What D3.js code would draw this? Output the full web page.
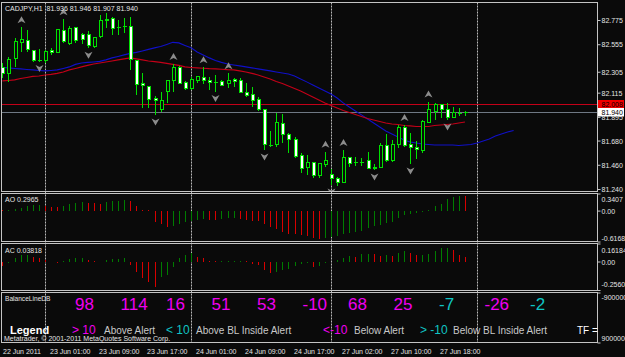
<!DOCTYPE html>
<html>
<head>
<meta charset="utf-8">
<script src="https://cdn.jsdelivr.net/npm/d3@7/dist/d3.min.js"></script>
<style>
  html, body { margin: 0; padding: 0; background: #0a0a0a; }
  svg { display: block; font-family: "Liberation Sans", Arial, sans-serif; }
</style>
</head>
<body>
<svg id="chart" width="625" height="357"></svg>
<script>
// CADJPY H1 candles (open / high / low / close), one entry per bar
const opens = [
  82.343, 82.291, 82.428, 82.573, 82.588, 82.494, 82.419, 82.406, 82.497, 82.479,
  82.679, 82.564, 82.709, 82.640, 82.640, 82.534, 82.625, 82.782, 82.791, 82.715,
  82.722, 82.715, 82.403, 82.194, 82.173, 82.064, 81.958, 82.125, 82.225, 82.346,
  82.206, 82.149, 82.225, 82.252, 82.222, 82.215, 82.212, 82.194, 82.234, 82.222,
  82.119, 82.094, 82.049, 81.958, 81.649, 81.640, 81.831, 81.737, 81.694, 81.540,
  81.437, 81.479, 81.361, 81.467, 81.376, 81.334, 81.297, 81.525, 81.488, 81.485,
  81.497, 81.437, 81.437, 81.631, 81.497, 81.643, 81.800, 81.640, 81.616, 81.594,
  81.846, 81.943, 82.003, 81.958, 81.891, 81.937, 81.936
];
const highs = [
  82.382, 82.443, 82.609, 82.709, 82.685, 82.497, 82.509, 82.503, 82.519, 82.691,
  82.782, 82.722, 82.715, 82.655, 82.679, 82.625, 82.822, 82.843, 82.806, 82.776,
  82.791, 82.806, 82.412, 82.291, 82.176, 82.085, 82.125, 82.231, 82.376, 82.358,
  82.225, 82.261, 82.267, 82.346, 82.261, 82.273, 82.231, 82.291, 82.252, 82.252,
  82.200, 82.164, 82.073, 81.964, 81.770, 81.928, 81.922, 81.752, 81.715, 81.570,
  81.549, 81.488, 81.479, 81.579, 81.419, 81.352, 81.594, 81.534, 81.534, 81.521,
  81.579, 81.467, 81.655, 81.737, 81.685, 81.822, 81.822, 81.746, 81.676, 81.867,
  82.034, 82.019, 82.012, 82.025, 81.988, 81.973, 81.946
];
const lows = [
  82.246, 82.215, 82.352, 82.488, 82.488, 82.397, 82.397, 82.382, 82.458, 82.473,
  82.564, 82.549, 82.564, 82.555, 82.519, 82.519, 82.609, 82.700, 82.640, 82.640,
  82.655, 82.322, 82.094, 81.973, 81.973, 81.912, 81.943, 82.019, 82.125, 82.194,
  82.140, 82.140, 82.206, 82.194, 82.140, 82.125, 82.176, 82.155, 82.170, 82.115,
  82.079, 81.982, 81.952, 81.594, 81.625, 81.625, 81.655, 81.570, 81.519, 81.382,
  81.367, 81.337, 81.337, 81.443, 81.276, 81.267, 81.291, 81.443, 81.449, 81.449,
  81.419, 81.412, 81.434, 81.488, 81.488, 81.609, 81.625, 81.467, 81.509, 81.564,
  81.837, 81.867, 81.882, 81.867, 81.882, 81.903, 81.907
];
const closes = [
  82.291, 82.419, 82.579, 82.597, 82.509, 82.409, 82.415, 82.491, 82.479, 82.685,
  82.579, 82.700, 82.588, 82.600, 82.540, 82.619, 82.770, 82.767, 82.700, 82.712,
  82.719, 82.419, 82.191, 82.176, 82.055, 82.043, 82.043, 82.225, 82.346, 82.200,
  82.152, 82.231, 82.258, 82.222, 82.206, 82.212, 82.182, 82.228, 82.219, 82.119,
  82.088, 82.043, 81.958, 81.640, 81.643, 81.846, 81.737, 81.691, 81.534, 81.428,
  81.482, 81.361, 81.473, 81.503, 81.331, 81.297, 81.528, 81.473, 81.482, 81.488,
  81.428, 81.425, 81.631, 81.497, 81.640, 81.800, 81.634, 81.619, 81.600, 81.852,
  81.958, 82.003, 81.964, 81.891, 81.934, 81.931, 81.940
];

// moving averages (blue one is shifted 8 bars into the future)
const blueLine = [
  82.343, 82.340, 82.335, 82.331, 82.326, 82.322, 82.317, 82.313, 82.317, 82.322,
  82.335, 82.349, 82.372, 82.385, 82.390, 82.394, 82.399, 82.413, 82.431, 82.444,
  82.458, 82.472, 82.481, 82.494, 82.508, 82.522, 82.535, 82.553, 82.572, 82.567,
  82.544, 82.522, 82.485, 82.458, 82.431, 82.408, 82.390, 82.376, 82.367, 82.358,
  82.349, 82.340, 82.331, 82.322, 82.313, 82.303, 82.294, 82.285, 82.267, 82.240,
  82.213, 82.185, 82.158, 82.131, 82.103, 82.067, 82.022, 81.985, 81.949, 81.913,
  81.876, 81.840, 81.803, 81.767, 81.740, 81.713, 81.685, 81.667, 81.658, 81.649,
  81.644, 81.640, 81.640, 81.640, 81.640, 81.635, 81.640, 81.644, 81.658, 81.676,
  81.694, 81.722, 81.740, 81.758, 81.772
];
const redLine = [
  82.222, 82.226, 82.231, 82.244, 82.253, 82.263, 82.267, 82.276, 82.281, 82.290,
  82.303, 82.322, 82.335, 82.349, 82.363, 82.376, 82.385, 82.394, 82.403, 82.413,
  82.422, 82.431, 82.422, 82.413, 82.403, 82.397, 82.390, 82.381, 82.372, 82.363,
  82.349, 82.344, 82.340, 82.337, 82.333, 82.331, 82.328, 82.324, 82.322, 82.313,
  82.303, 82.290, 82.276, 82.258, 82.240, 82.217, 82.199, 82.176, 82.153, 82.131,
  82.103, 82.076, 82.049, 82.022, 81.999, 81.976, 81.953, 81.935, 81.917, 81.899,
  81.881, 81.867, 81.853, 81.840, 81.831, 81.826, 81.817, 81.813, 81.808, 81.808,
  81.808, 81.817, 81.822, 81.826, 81.831, 81.840, 81.849
];

// fractal bars
const upFractals = [3, 10, 28, 33, 37, 53, 56, 66, 70];
const downFractals = [6, 14, 25, 35, 43, 54, 61, 67, 73];

// Awesome Oscillator / Accelerator Oscillator
const aoValues = [
  0.01, 0.02, 0.03, 0.05, 0.10, 0.105, 0.11, 0.10, 0.067, 0.065,
  0.10, 0.133, 0.147, 0.167, 0.153, 0.150, 0.133, 0.167, 0.187, 0.20,
  0.22, 0.187, 0.10, 0.02, 0.005, -0.233, -0.267, -0.333, -0.30, -0.267,
  -0.233, -0.20, -0.18, -0.167, -0.18, -0.183, -0.167, -0.153, -0.147, -0.167,
  -0.18, -0.20, -0.205, -0.267, -0.333, -0.367, -0.42, -0.467, -0.47, -0.487,
  -0.513, -0.553, -0.56, -0.54, -0.525, -0.50, -0.467, -0.447, -0.433, -0.40,
  -0.353, -0.313, -0.287, -0.247, -0.22, -0.153, -0.087, -0.067, -0.047, -0.02,
  0.02, 0.10, 0.133, 0.233, 0.267, 0.30, 0.2965
];
const acValues = [
  -0.04, -0.01, 0.03, 0.055, 0.06, 0.045, 0.03, 0.01, -0.005, -0.01,
  0.005, 0.02, 0.035, 0.036, 0.015, 0.005, -0.002, 0.015, 0.02, 0.022,
  0.03, -0.03, -0.09, -0.15, -0.18, -0.225, -0.135, -0.12, -0.045, 0.03,
  0.055, 0.075, 0.045, 0.03, 0.006, 0.004, 0.005, 0.007, 0.008, 0.009,
  0.004, -0.02, -0.03, -0.075, -0.10, -0.09, -0.075, -0.068, -0.04, -0.02,
  -0.015, -0.045, -0.038, -0.015, -0.005, 0.015, 0.03, 0.05, 0.045, 0.066,
  0.067, 0.066, 0.05, 0.054, 0.05, 0.075, 0.09, 0.075, 0.054, 0.06,
  0.07, 0.09, 0.12, 0.121, 0.105, 0.06, 0.03818
];

// axis ticks
const priceTicks = [82.775, 82.555, 82.305, 82.115, 81.895, 81.680, 81.460, 81.240];
const aoTicks = [0.3407, 0, -0.6168];
const acTicks = [0.16184, 0, -0.25607];
const blTicks = [-9000000, 9000000];
const alertLevel = 82.008;
const bidPrice = 81.940;

const timeLabelBars = [0, 8, 16, 24, 32, 40, 48, 56, 64, 72];
const timeLabels = ["22 Jun 2011", "23 Jun 01:00", "23 Jun 09:00", "23 Jun 17:00", "24 Jun 01:00",
  "24 Jun 09:00", "24 Jun 17:00", "27 Jun 02:00", "27 Jun 10:00", "27 Jun 18:00"];
const daySeparatorBars = [7, 31, 54, 78];

// BalanceLineDB panel
const balanceValues = [98, 114, 16, 51, 53, -10, 68, 25, -7, -26, -2];
const legendTexts = ["> 10", "Above Alert", "< 10", "Above BL Inside Alert", "<-10", "Below Alert", "> -10", "Below BL Inside Alert", "TF ="];
const legendKinds = ["hi", "txt", "lo", "txt", "hi", "txt", "lo", "txt", "white"];

const COLORS = {
  bg: "#0a0a0a",
  frame: "#c4c4c4",
  text: "#e4e4e4",
  candle: "#00e000",
  bear: "#ffffff",
  blue: "#1010c8",
  red: "#c40018",
  bid: "#6f7884",
  up: "#007c00",
  down: "#d80000",
  arrow: "#8c8c8c",
  magenta: "#f000f0",
  cyan: "#10c4c4",
  legend: "#c8c8c8",
};

const svg = d3.select("#chart");
svg.append("rect").attr("width", 625).attr("height", 357).attr("fill", COLORS.bg);

const PANELS = {
  main: [2.5, 191.5],
  ao: [193.5, 241.5],
  ac: [243.5, 290.5],
  bl: [292.5, 342.5],
};
const LEFT = 1.5, RIGHT = 597.5;

// bar index -> x
const x = d3.scaleLinear().domain([0, 97.7]).range([2.4, 597]);
const px = (i) => Math.round(x(i));

const yMain = d3.scaleLinear().domain([81.24, 82.775]).range([189, 20]);
const yAO = d3.scaleLinear().domain([-0.6168, 0.3407]).range([241.5, 193.5]);
const yAC = d3.scaleLinear().domain([-0.25607, 0.16184]).range([290, 243.5]);
const yBL = d3.scaleLinear().domain([-9000000, 9000000]).range([292.5, 342.5]);

// clip per panel
const defs = svg.append("defs");
Object.entries(PANELS).forEach(([k, [t, b]]) => {
  defs.append("clipPath").attr("id", "clip-" + k)
    .append("rect").attr("x", LEFT + 0.5).attr("y", t + 0.5)
    .attr("width", RIGHT - LEFT - 1).attr("height", b - t - 1);
});

// day separators (dotted verticals across all panels)
svg.append("g").selectAll("line").data(daySeparatorBars).join("line")
  .attr("x1", (d) => px(d) + 0.5).attr("x2", (d) => px(d) + 0.5)
  .attr("y1", PANELS.main[0]).attr("y2", PANELS.bl[1])
  .attr("stroke", "#b8b8b8").attr("stroke-dasharray", "2,1");

// ---- main panel ----
const gMain = svg.append("g").attr("clip-path", "url(#clip-main)");

// horizontal alert + bid lines
gMain.append("line").attr("x1", LEFT).attr("x2", RIGHT)
  .attr("y1", Math.round(yMain(alertLevel)) + 0.5).attr("y2", Math.round(yMain(alertLevel)) + 0.5)
  .attr("stroke", COLORS.red);
gMain.append("line").attr("x1", LEFT).attr("x2", RIGHT)
  .attr("y1", Math.round(yMain(bidPrice)) + 0.5).attr("y2", Math.round(yMain(bidPrice)) + 0.5)
  .attr("stroke", COLORS.bid);

// moving averages
const maLine = d3.line().x((d, i) => x(i)).y((d) => yMain(d));
gMain.append("path").datum(blueLine).attr("d", maLine)
  .attr("fill", "none").attr("stroke", COLORS.blue).attr("stroke-width", 1.1);
gMain.append("path").datum(redLine).attr("d", maLine)
  .attr("fill", "none").attr("stroke", COLORS.red).attr("stroke-width", 1.1);

// candles
const candles = opens.map((o, i) => ({ i, o, h: highs[i], l: lows[i], c: closes[i] }));
const cg = gMain.append("g").selectAll("g").data(candles).join("g")
  .attr("shape-rendering", "crispEdges");
cg.append("line") // wick
  .attr("x1", (d) => px(d.i) + 0.5).attr("x2", (d) => px(d.i) + 0.5)
  .attr("y1", (d) => yMain(d.h)).attr("y2", (d) => yMain(d.l))
  .attr("stroke", COLORS.candle);
cg.each(function (d) {
  const g = d3.select(this);
  const yo = yMain(d.o), yc = yMain(d.c);
  if (Math.abs(yo - yc) < 1.2) {
    // doji: short horizontal dash
    g.append("line").attr("x1", px(d.i) - 1.5).attr("x2", px(d.i) + 2.5)
      .attr("y1", Math.round(yc) + 0.5).attr("y2", Math.round(yc) + 0.5)
      .attr("stroke", COLORS.candle);
  } else {
    g.append("rect")
      .attr("x", px(d.i) - 1).attr("width", 3)
      .attr("y", Math.min(yo, yc)).attr("height", Math.abs(yo - yc))
      .attr("fill", d.c < d.o ? COLORS.bear : COLORS.bg)
      .attr("stroke", COLORS.candle);
  }
});

// fractal arrows
const upArrow = "M0,-4 L4,3 L0,1 L-4,3 Z";
const downArrow = "M0,4 L4,-3 L0,-1 L-4,-3 Z";
gMain.append("g").selectAll("path").data(upFractals).join("path")
  .attr("d", upArrow)
  .attr("transform", (i) => `translate(${px(i) + 0.5},${yMain(highs[i]) - 7})`)
  .attr("fill", COLORS.arrow);
gMain.append("g").selectAll("path").data(downFractals).join("path")
  .attr("d", downArrow)
  .attr("transform", (i) => `translate(${px(i) + 0.5},${yMain(lows[i]) + 6.5})`)
  .attr("fill", COLORS.arrow);

// ---- histogram panels ----
function histogram(values, yScale, clip) {
  const g = svg.append("g").attr("clip-path", `url(#clip-${clip})`).attr("shape-rendering", "crispEdges");
  g.selectAll("line").data(values).join("line")
    .attr("x1", (d, i) => px(i) + 0.5).attr("x2", (d, i) => px(i) + 0.5)
    .attr("y1", yScale(0)).attr("y2", (d) => yScale(d))
    .attr("stroke", (d, i) => (i > 0 && d > values[i - 1] ? COLORS.up : COLORS.down));
}
histogram(aoValues, yAO, "ao");
histogram(acValues, yAC, "ac");

// panel frames
Object.values(PANELS).forEach(([t, b]) => {
  svg.append("rect").attr("x", LEFT).attr("y", t)
    .attr("width", RIGHT - LEFT).attr("height", b - t)
    .attr("fill", "none").attr("stroke", COLORS.frame);
});

// ---- right axes ----
function styleAxis(g, offsets) {
  g.select(".domain").remove();
  g.selectAll(".tick line").attr("stroke", COLORS.frame);
  g.selectAll(".tick text").attr("fill", COLORS.text).attr("font-size", 7).attr("x", 4)
    .attr("dy", (d, i) => (offsets ? offsets[i] : 0) + 2.5);
}
const mainAxis = svg.append("g").attr("transform", `translate(${RIGHT},0)`)
  .call(d3.axisRight(yMain).tickValues(priceTicks).tickFormat(d3.format(".3f")).tickSize(3));
styleAxis(mainAxis);
svg.append("g").attr("transform", `translate(${RIGHT},0)`)
  .call(d3.axisRight(yAO).tickValues(aoTicks).tickFormat((d) => (d === 0 ? "0.00" : d)).tickSize(3))
  .call((g) => styleAxis(g, [5.5, 0, -3.5]));
svg.append("g").attr("transform", `translate(${RIGHT},0)`)
  .call(d3.axisRight(yAC).tickValues(acTicks).tickFormat((d) => (d === 0 ? "0.00" : d)).tickSize(3))
  .call((g) => styleAxis(g, [6, 0, -6]));
svg.append("g").attr("transform", `translate(${RIGHT},0)`)
  .call(d3.axisRight(yBL).tickValues(blTicks).tickFormat((d) => d).tickSize(3))
  .call((g) => styleAxis(g, [4, -5]));

// price tags on the axis
function priceTag(value, bg, fg) {
  const yy = Math.round(yMain(value));
  svg.append("rect").attr("x", RIGHT + 0.5).attr("y", yy - 4).attr("width", 26).attr("height", 8.5)
    .attr("fill", bg);
  svg.append("text").attr("x", RIGHT + 4).attr("y", yy + 3).attr("font-size", 7)
    .attr("fill", fg).text(d3.format(".3f")(value));
}
priceTag(alertLevel, "#f00000", "#000");
priceTag(bidPrice, "#ffffff", "#000");

// ---- texts ----
const last = candles[candles.length - 1];
const f3 = d3.format(".3f");
svg.append("text").attr("x", 5).attr("y", 11).attr("font-size", 7).attr("fill", COLORS.text)
  .attr("xml:space", "preserve")
  .text(`CADJPY,H1  ${f3(last.o)} ${f3(last.h)} ${f3(last.l)} ${f3(last.c)}`);
svg.append("text").attr("x", 5).attr("y", 202).attr("font-size", 7).attr("fill", COLORS.text)
  .text(`AO ${aoValues[aoValues.length - 1]}`);
svg.append("text").attr("x", 5).attr("y", 253).attr("font-size", 7).attr("fill", COLORS.text)
  .text(`AC ${acValues[acValues.length - 1]}`);
svg.append("text").attr("x", 5).attr("y", 301).attr("font-size", 6.6).attr("fill", COLORS.text)
  .text("BalanceLineDB");

// balance numbers (one per timeframe slot)
const balX = d3.scaleLinear().domain([0, balanceValues.length - 1]).range([75, 530]);
svg.append("g").selectAll("text").data(balanceValues).join("text")
  .attr("x", (d, i) => balX(i)).attr("y", 309.5)
  .attr("font-size", 17)
  .attr("fill", (d) => (Math.abs(d) >= 10 ? COLORS.magenta : COLORS.cyan))
  .text((d) => d);

// legend row
svg.append("text").attr("x", 10).attr("y", 334).attr("font-size", 11).attr("font-weight", "bold")
  .attr("fill", "#ffffff").text("Legend");
const legendX = [72, 104, 166, 196, 323, 354, 420, 453, 577];
svg.append("g").selectAll("text").data(legendTexts).join("text")
  .attr("x", (d, i) => legendX[i]).attr("y", 334)
  .attr("font-size", (d, i) => (legendKinds[i] === "hi" || legendKinds[i] === "lo" ? 12 : 10))
  .attr("fill", (d, i) => ({ hi: COLORS.magenta, lo: COLORS.cyan, txt: COLORS.legend, white: "#ffffff" })[legendKinds[i]])
  .text((d) => d);
svg.append("text").attr("x", 4).attr("y", 340.5).attr("font-size", 7).attr("fill", COLORS.text)
  .text("Metatrader, © 2001-2011 MetaQuotes Software Corp.");

// time axis labels
svg.append("g").selectAll("text").data(timeLabelBars).join("text")
  .attr("x", (d) => Math.max(3, px(d) - 1)).attr("y", 354)
  .attr("font-size", 7).attr("fill", COLORS.text)
  .text((d, i) => timeLabels[i]);
</script>
</body>
</html>
